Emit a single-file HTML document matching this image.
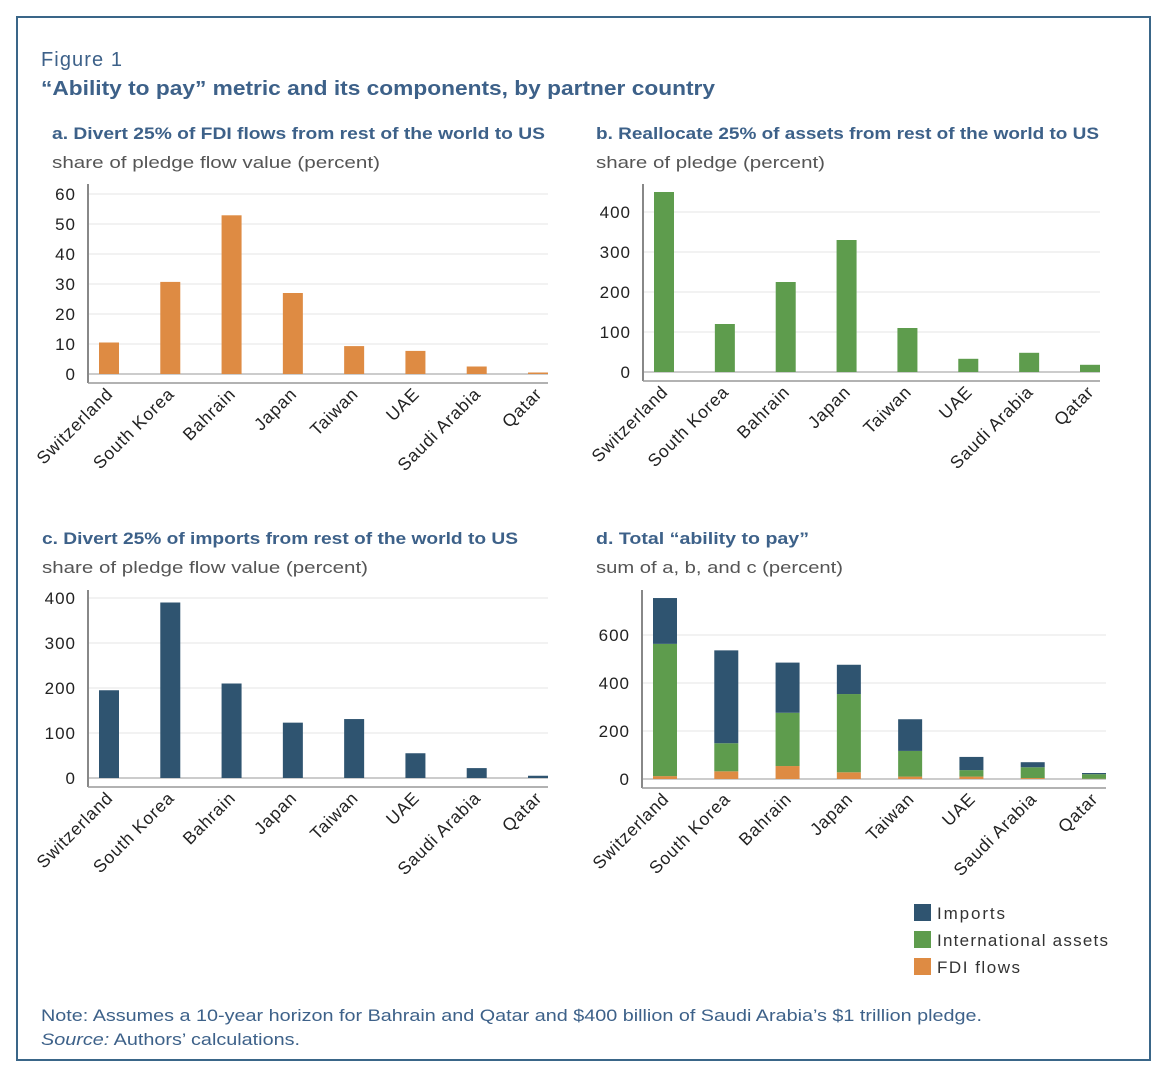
<!DOCTYPE html>
<html><head><meta charset="utf-8"><style>
body{margin:0;background:#fff;width:1172px;height:1076px;overflow:hidden;font-family:"Liberation Sans",sans-serif}
svg text{font-family:"Liberation Sans",sans-serif}
</style></head><body>
<svg id="fig" width="1172" height="1076">
<rect x="17" y="17" width="1133" height="1043" fill="none" stroke="#3a6688" stroke-width="2"/>
<text x="41" y="66" font-size="20" fill="#3d6189" textLength="81">Figure 1</text>
<text x="41" y="95" font-size="20" font-weight="bold" fill="#3d6189" textLength="674" lengthAdjust="spacingAndGlyphs">“Ability to pay” metric and its components, by partner country</text>
<text x="52" y="139" font-size="17" font-weight="bold" fill="#3d6189" textLength="493" lengthAdjust="spacingAndGlyphs">a. Divert 25% of FDI flows from rest of the world to US</text>
<text x="52" y="168" font-size="16.5" fill="#555" textLength="328" lengthAdjust="spacingAndGlyphs">share of pledge flow value (percent)</text>
<text x="596" y="139" font-size="17" font-weight="bold" fill="#3d6189" textLength="503" lengthAdjust="spacingAndGlyphs">b. Reallocate 25% of assets from rest of the world to US</text>
<text x="596" y="168" font-size="16.5" fill="#555" textLength="229" lengthAdjust="spacingAndGlyphs">share of pledge (percent)</text>
<text x="42" y="544" font-size="17" font-weight="bold" fill="#3d6189" textLength="476" lengthAdjust="spacingAndGlyphs">c. Divert 25% of imports from rest of the world to US</text>
<text x="42" y="573" font-size="16.5" fill="#555" textLength="326" lengthAdjust="spacingAndGlyphs">share of pledge flow value (percent)</text>
<text x="596" y="544" font-size="17" font-weight="bold" fill="#3d6189" textLength="213" lengthAdjust="spacingAndGlyphs">d. Total “ability to pay”</text>
<text x="596" y="573" font-size="16.5" fill="#555" textLength="247" lengthAdjust="spacingAndGlyphs">sum of a, b, and c (percent)</text>
<g>
<rect x="914" y="904" width="17" height="17" fill="#2f5470"/>
<text x="937" y="919" font-size="17" fill="#333" textLength="68">Imports</text>
<rect x="914" y="931" width="17" height="17" fill="#5e9c4d"/>
<text x="937" y="946" font-size="17" fill="#333" textLength="171">International assets</text>
<rect x="914" y="958" width="17" height="17" fill="#de8b43"/>
<text x="937" y="973" font-size="17" fill="#333" textLength="83">FDI flows</text>
</g>
<text x="41" y="1021" font-size="17" fill="#3d6189" textLength="941" lengthAdjust="spacingAndGlyphs">Note: Assumes a 10-year horizon for Bahrain and Qatar and $400 billion of Saudi Arabia’s $1 trillion pledge.</text>
<text x="41" y="1045" font-size="17" fill="#3d6189" textLength="259" lengthAdjust="spacingAndGlyphs"><tspan font-style="italic">Source:</tspan> Authors’ calculations.</text>
</svg>
<script>
const categories=["Switzerland","South Korea","Bahrain","Japan","Taiwan","UAE","Saudi Arabia","Qatar"];
const fdiValues=[10.5,30.7,52.9,27,9.3,7.7,2.5,0.5];
const assetValues=[450,120,225,330,110,33,48,18];
const importValues=[195,390,210,123,131,55,22,5];
const totalFdi=[12,32,54,28,10,10,4,1];
const totalAssets=[551,117,222,326,107,27,45,19];
const totalImports=[191,387,209,122,132,55,21,5];
const ticksA=[0,10,20,30,40,50,60];
const ticksB=[0,100,200,300,400];
const ticksC=[0,100,200,300,400];
const ticksD=[0,200,400,600];
const NS="http://www.w3.org/2000/svg";
const svg=document.getElementById('fig');
function mk(t,a,p){const e=document.createElementNS(NS,t);for(const k in a)e.setAttribute(k,a[k]);(p||svg).appendChild(e);return e;}
function panel(id,ax,zeroY,pxPerUnit,right,topY,ticks,series,colors,w){
  const g=mk('g',{});
  
  
  const y=v=>zeroY-v*pxPerUnit;
  ticks.forEach(t=>{
    const l=mk('line',{x1:ax,x2:right,y1:y(t),y2:y(t),stroke:t===0?'#bbb':'#e6e6e6','stroke-width':t===0?1.5:1},g);
    
    
    const tx=mk('text',{x:ax-12,y:y(t)+6,'text-anchor':'end','font-size':17,fill:'#222','letter-spacing':1},g);
    tx.textContent=t;
    
    
  });
  const axY=zeroY+9;
  const va=mk('line',{x1:ax,x2:ax,y1:topY,y2:axY,stroke:'#888','stroke-width':2},g);
  
  
  const ha=mk('line',{x1:ax,x2:right,y1:axY,y2:axY,stroke:'#999','stroke-width':1.5},g);
  
  
  const step=(right-ax-11-w)/(categories.length-1);
  categories.forEach((c,i)=>{
    const x0=ax+11+i*step;
    let base=0;
    series.forEach((s,j)=>{
      const v=s[i];
      const r=mk('rect',{x:x0,y:y(base+v),width:w,height:v*pxPerUnit,fill:colors[j]},g);
      
      
      base+=v;
    });
    const cx=x0+w/2+5, cy=axY+12;
    const t=mk('text',{x:cx,y:cy,'text-anchor':'end','font-size':17.5,fill:'#222','letter-spacing':0.8,transform:`rotate(-45 ${cx} ${cy})`},g);
    t.textContent=c;
    
    
  });
}
panel('a',88,374,3.0,548,184,ticksA,[fdiValues],['#de8b43'],20);
panel('b',643,372,0.4,1100,184,ticksB,[assetValues],['#5e9c4d'],20);
panel('c',88,778,0.45,548,590,ticksC,[importValues],['#2f5470'],20);
panel('d',642,779,0.24,1106,590,ticksD,[totalFdi,totalAssets,totalImports],['#de8b43','#5e9c4d','#2f5470'],24);
</script>
</body></html>
